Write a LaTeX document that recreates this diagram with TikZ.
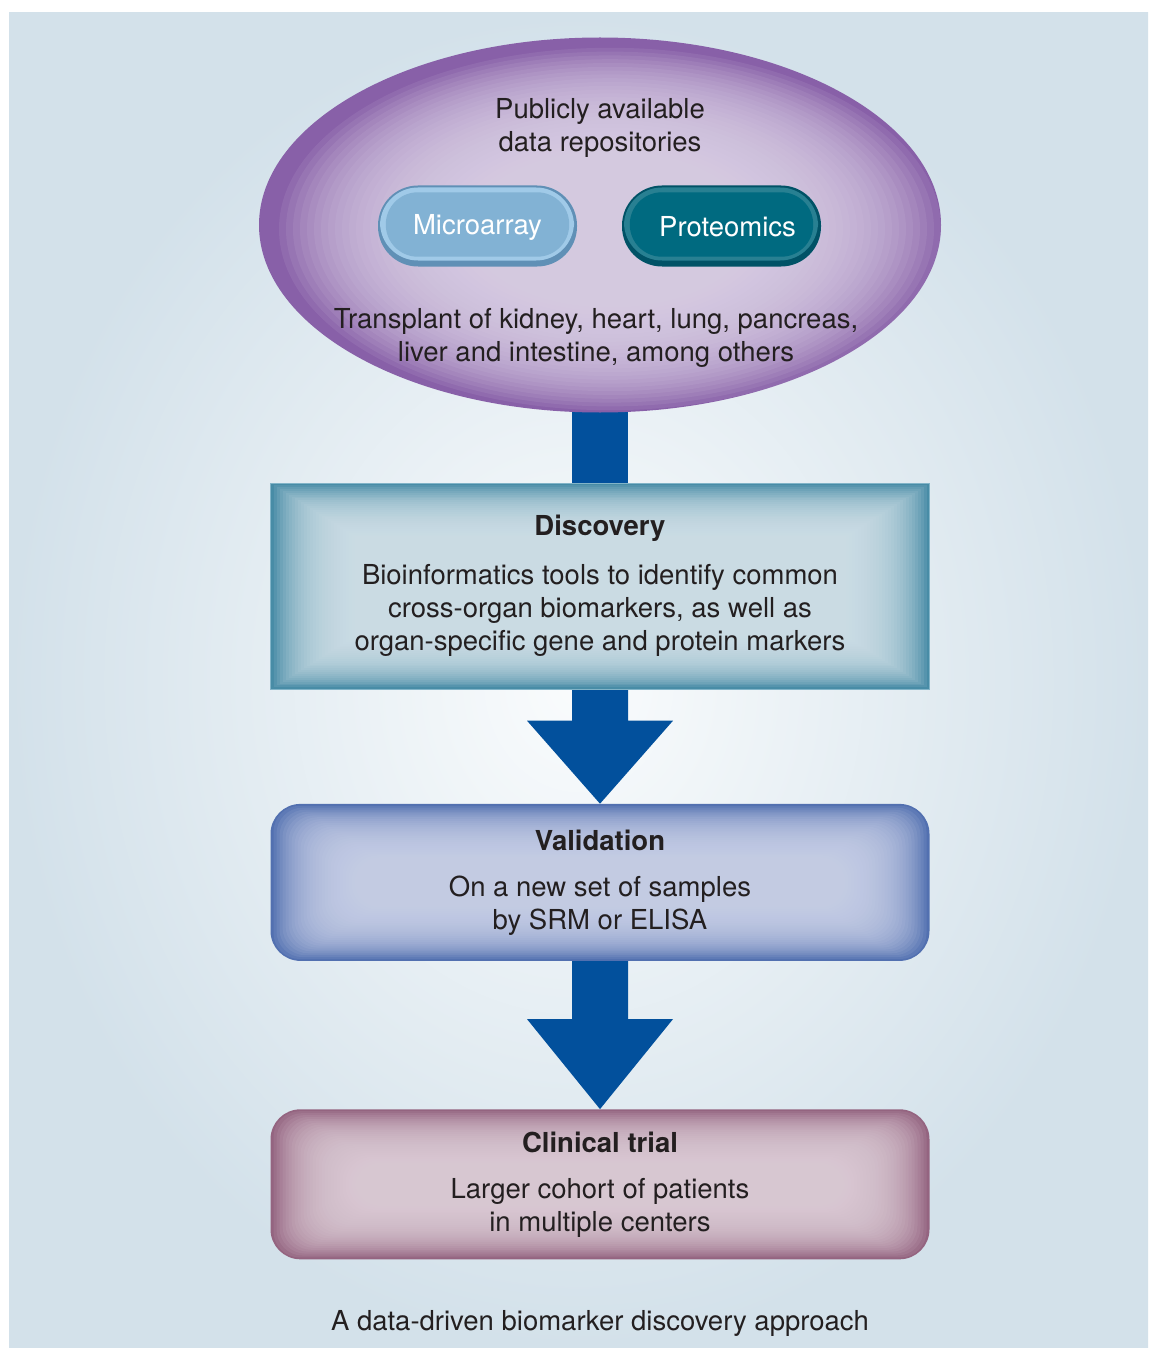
\documentclass[tikz,border=0pt]{standalone}
\usepackage{fontspec}
\setmainfont{TeX Gyre Heros}
\usetikzlibrary{shapes.geometric,calc,positioning}

\definecolor{bgout}{RGB}{211,225,234}
\definecolor{bgin}{RGB}{250,252,253}
\definecolor{arrowblue}{RGB}{2,80,156}
\definecolor{purpedge}{RGB}{136,96,168}
\definecolor{purplight}{RGB}{221,211,232}
\definecolor{microedge}{RGB}{96,144,182}
\definecolor{microrim}{RGB}{160,202,232}
\definecolor{microfill}{RGB}{130,178,212}
\definecolor{protedge}{RGB}{0,82,102}
\definecolor{protrim}{RGB}{40,128,146}
\definecolor{protfill}{RGB}{0,106,128}
\definecolor{discedge}{RGB}{72,140,166}
\definecolor{discline}{RGB}{130,180,200}
\definecolor{disclight}{RGB}{214,228,236}
\definecolor{valedge}{RGB}{82,112,176}
\definecolor{vallight}{RGB}{205,212,235}
\definecolor{clinedge}{RGB}{148,100,128}
\definecolor{clinlight}{RGB}{224,208,218}
\definecolor{textdark}{RGB}{35,31,32}

\pgfdeclarelayer{back}
\pgfdeclarelayer{between}
\pgfsetlayers{back,between,main}

\tikzset{
  glow/.style n args={3}{fill=#1,
    path picture={\foreach \i in {1,...,28}{
      \fill[#2,opacity=0.1,rounded corners=#3]
        ([xshift=\i*3pt,yshift=-\i*1.9pt]path picture bounding box.north west)
        rectangle ([xshift=-\i*3pt,yshift=\i*1.9pt]path picture bounding box.south east);}}},
  stagebox/.style={rectangle,minimum width=659pt,inner sep=0pt,align=center,
    text=textdark,font=\fontsize{27.5}{33}\selectfont},
  pill/.style 2 args={rectangle,rounded corners=40pt,minimum width=199pt,
    minimum height=81pt,inner sep=0pt,fill=#1,text=white,
    path picture={
      \fill[#2,rounded corners=38pt]
        ([xshift=2pt,yshift=-2pt]path picture bounding box.north west)
        rectangle ([xshift=-3pt,yshift=6pt]path picture bounding box.south east);
    }},
  plaintext/.style={inner sep=0pt,align=center,text=textdark,
    font=\fontsize{27.5}{33}\selectfont},
  blockarrow/.style={fill=arrowblue}
}

\begin{document}
\begin{tikzpicture}[x=1pt,y=-1pt]
\useasboundingbox (0,0) rectangle (1148,1348);
\begin{pgfonlayer}{back}
\shade[inner color=bgin,outer color=bgout] (9,13) rectangle (1148,1348);
\end{pgfonlayer}

% source of the data
\node (ell) [ellipse,minimum width=682pt,minimum height=375pt,inner sep=0pt,
  fill=purpedge,
  path picture={\foreach \i in {1,...,28}{
    \fill[purplight,opacity=0.1] ([xshift=10pt,yshift=-4pt]path picture bounding box.center)
      ellipse [x radius={338pt-\i*7pt},y radius={185pt-\i*3.8pt}];}}]
  at (600,225) {};

% stages
\node (disc) [stagebox,minimum height=206pt,below=70pt of ell,draw=discline,
  line width=1pt,glow={discedge}{disclight}{0pt}]
  {\textbf{Discovery}\\[16pt]
   Bioinformatics tools to identify common\\
   cross-organ biomarkers, as well as\\
   organ-specific gene and protein markers};
\node (val) [stagebox,minimum height=157pt,below=114pt of disc,
  rounded corners=30pt,glow={valedge}{vallight}{26pt}]
  {\textbf{Validation}\\[13pt]
   On a new set of samples\\
   by SRM or ELISA};
\node (clin) [stagebox,minimum height=150pt,below=148pt of val,
  rounded corners=30pt,glow={clinedge}{clinlight}{26pt}]
  {\textbf{Clinical trial}\\[13pt]
   Larger cohort of patients\\
   in multiple centers};

% connectors
\begin{pgfonlayer}{between}
\fill[blockarrow] ($(ell.south)+(-28,-14)$) rectangle ($(disc.north)+(28,0)$);
\fill[blockarrow] ($(disc.south)+(-28,0)$) -- ($(disc.south)+(-28,31)$)
  -- ($(disc.south)+(-73,31)$) -- (val.north) -- ($(disc.south)+(73,31)$)
  -- ($(disc.south)+(28,31)$) -- ($(disc.south)+(28,0)$) -- cycle;
\fill[blockarrow] ($(val.south)+(-28,0)$) -- ($(val.south)+(-28,58)$)
  -- ($(val.south)+(-73,58)$) -- (clin.north) -- ($(val.south)+(73,58)$)
  -- ($(val.south)+(28,58)$) -- ($(val.south)+(28,0)$) -- cycle;
\end{pgfonlayer}

\node (pubtext) [plaintext] at (600,127.5)
  {Publicly available\\data repositories};
\node (micro) [pill={microedge}{microrim}] at (477.5,226) {};
\node (prot) [pill={protedge}{protrim}] at (721.5,226) {};
\fill[microfill,rounded corners=32pt] ($(micro.north west)+(8,7)$)
  rectangle ($(micro.south east)+(-8,-10)$);
\fill[protfill,rounded corners=32pt] ($(prot.north west)+(8,7)$)
  rectangle ($(prot.south east)+(-8,-10)$);
\node (microtext) [plaintext,text=white] at ($(micro.center)+(0,1)$) {Microarray};
\node (prottext) [plaintext,text=white] at ($(prot.center)+(6,1)$) {Proteomics};
\node (organtext) [plaintext] at (596,337.5)
  {Transplant of kidney, heart, lung, pancreas,\\
   liver and intestine, among others};

\node (caption) [plaintext] at (600,1323)
  {A data-driven biomarker discovery approach};
\end{tikzpicture}
\end{document}
